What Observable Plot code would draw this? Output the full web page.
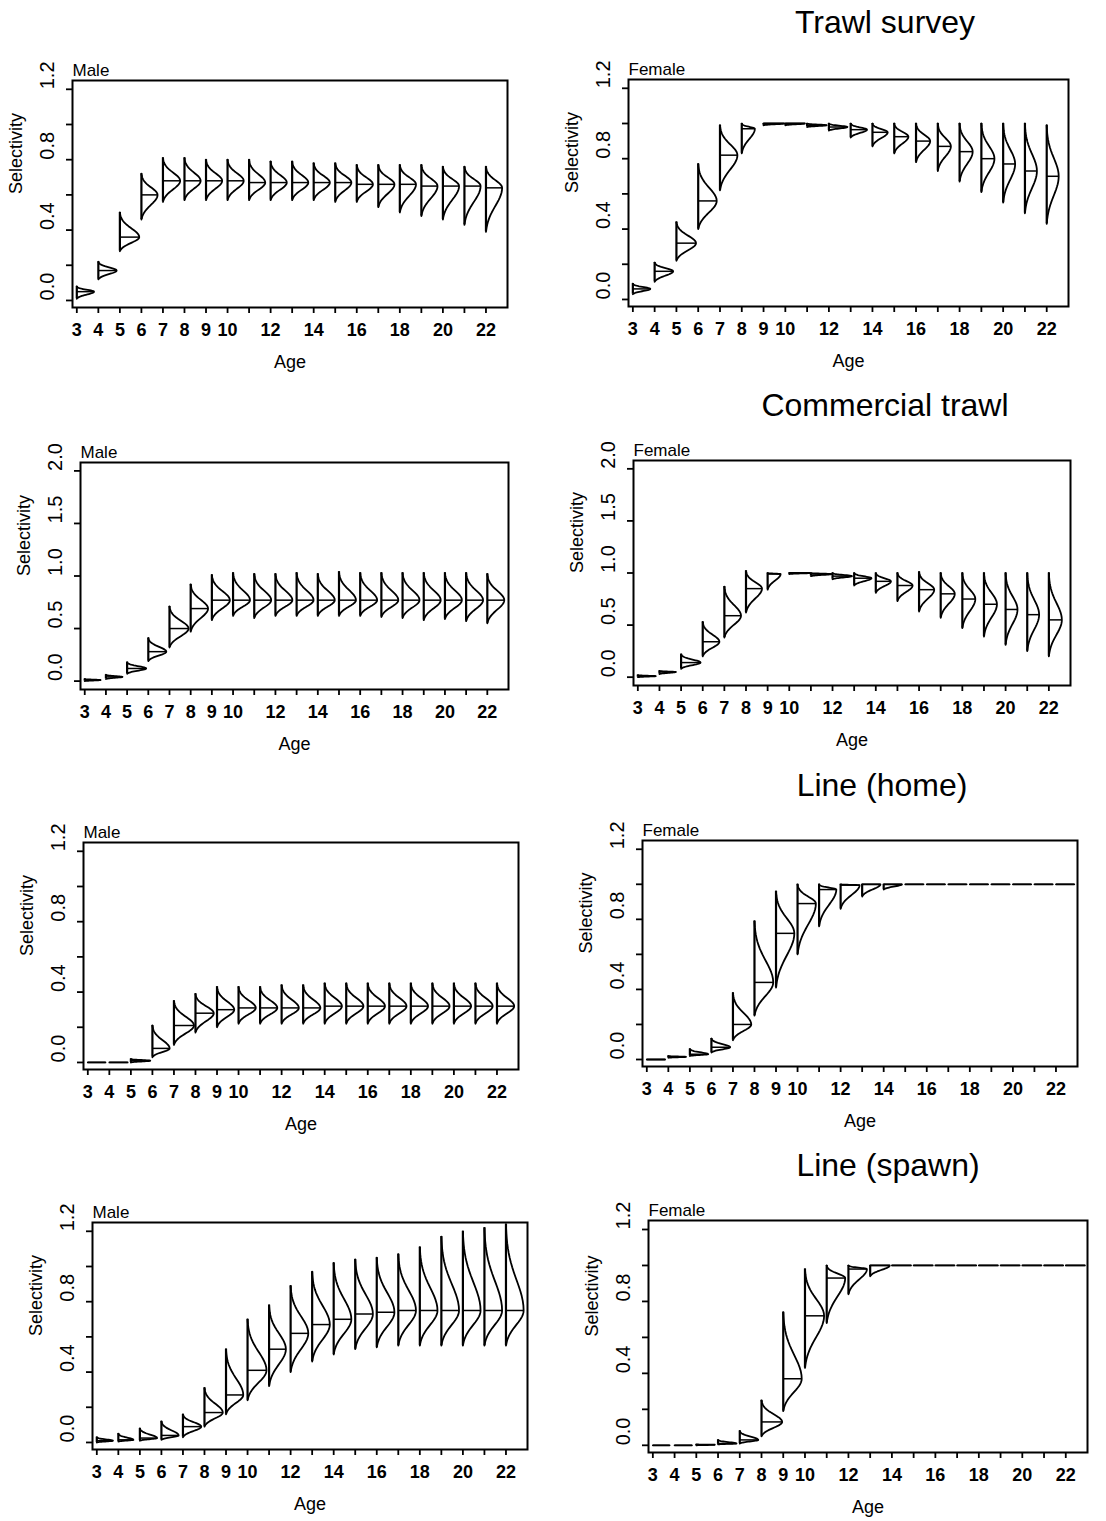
<!DOCTYPE html>
<html><head><meta charset="utf-8">
<script src="https://cdn.jsdelivr.net/npm/d3@7"></script>
<script src="https://cdn.jsdelivr.net/npm/@observablehq/plot@0.6"></script>
<style>
body{margin:0;background:#fff;font-family:"Liberation Sans",Arial,sans-serif;}
#fig{position:relative;width:1106px;height:1521px;overflow:hidden;background:#fff;}
.panel{position:absolute;}
.title{position:absolute;font-size:32px;transform:translate(-50%,-50%);white-space:nowrap;line-height:1;color:#000;}
</style></head><body><div id="fig"></div>
<script>
// ---------------- data ----------------
const ages = [3,4,5,6,7,8,9,10,11,12,13,14,15,16,17,18,19,20,21,22];
const xTickLabels = [3,4,5,6,7,8,9,10,12,14,16,18,20,22];
const yTicks12 = [0,0.2,0.4,0.6,0.8,1.0,1.2];
const yLabels12 = [0,0.4,0.8,1.2];
const yTicks20 = [0,0.5,1.0,1.5,2.0];
const yLabels20 = [0,0.5,1.0,1.5,2.0];
const panelTitles = ["Trawl survey","Commercial trawl","Line (home)","Line (spawn)"];
const sexes = ["Male","Female"];

// Trawl survey, male
const trawlMaleLo  = [0.01,0.12,0.28,0.46,0.56,0.57,0.57,0.57,0.57,0.57,0.57,0.57,0.56,0.56,0.53,0.50,0.48,0.46,0.43,0.39];
const trawlMaleMed = [0.05,0.17,0.36,0.60,0.68,0.68,0.68,0.68,0.67,0.67,0.67,0.67,0.67,0.66,0.66,0.66,0.65,0.65,0.65,0.64];
const trawlMaleHi  = [0.08,0.22,0.50,0.72,0.81,0.81,0.80,0.80,0.80,0.79,0.79,0.78,0.78,0.77,0.77,0.77,0.77,0.76,0.76,0.76];
const trawlMaleW   = [0.8,0.85,0.9,0.75,0.8,0.75,0.75,0.75,0.75,0.75,0.75,0.75,0.75,0.75,0.75,0.75,0.75,0.75,0.75,0.75];
// Trawl survey, female
const trawlFemLo  = [0.03,0.10,0.22,0.40,0.62,0.83,0.99,0.99,0.98,0.96,0.92,0.87,0.83,0.78,0.73,0.67,0.61,0.55,0.49,0.43];
const trawlFemMed = [0.06,0.16,0.32,0.56,0.82,0.97,1.0,1.0,0.99,0.98,0.965,0.95,0.925,0.90,0.87,0.84,0.80,0.77,0.73,0.70];
const trawlFemHi  = [0.09,0.21,0.44,0.77,0.99,1.0,1.0,1.0,1.0,1.0,1.0,1.0,1.0,1.0,1.0,1.0,1.0,1.0,1.0,0.99];
const trawlFemW   = [0.8,0.85,0.9,0.85,0.8,0.6,0.95,0.9,0.9,0.85,0.75,0.7,0.65,0.65,0.6,0.6,0.6,0.55,0.55,0.55];
// Commercial trawl, male
const commMaleLo  = [0.0,0.02,0.07,0.19,0.32,0.47,0.58,0.62,0.60,0.62,0.62,0.62,0.62,0.62,0.61,0.60,0.58,0.59,0.57,0.55];
const commMaleMed = [0.01,0.04,0.12,0.28,0.50,0.69,0.77,0.77,0.77,0.77,0.77,0.77,0.77,0.77,0.77,0.77,0.77,0.77,0.77,0.77];
const commMaleHi  = [0.02,0.06,0.18,0.41,0.71,0.92,1.01,1.03,1.02,1.02,1.03,1.02,1.04,1.03,1.03,1.03,1.03,1.03,1.03,1.02];
const commMaleW   = [0.75,0.78,0.9,0.85,0.9,0.82,0.85,0.8,0.8,0.8,0.8,0.8,0.8,0.8,0.8,0.8,0.8,0.8,0.8,0.8];
// Commercial trawl, female
const commFemLo  = [0.0,0.03,0.08,0.20,0.38,0.62,0.84,0.99,0.97,0.94,0.88,0.81,0.73,0.63,0.57,0.47,0.39,0.31,0.25,0.20];
const commFemMed = [0.01,0.05,0.14,0.34,0.59,0.85,0.99,1.0,0.99,0.97,0.95,0.92,0.88,0.84,0.80,0.75,0.70,0.65,0.60,0.55];
const commFemHi  = [0.02,0.06,0.22,0.53,0.87,1.02,1.0,1.0,1.0,1.0,1.0,1.0,1.0,1.01,1.0,1.0,1.0,1.0,1.0,1.0];
const commFemW   = [0.83,0.76,0.9,0.77,0.77,0.74,0.6,0.95,0.95,0.9,0.8,0.7,0.7,0.7,0.65,0.6,0.6,0.55,0.55,0.6];
// Line (home), male
const homeMaleLo  = [0.0,0.0,0.0,0.03,0.10,0.17,0.20,0.22,0.22,0.22,0.22,0.22,0.22,0.22,0.22,0.22,0.22,0.22,0.22,0.22];
const homeMaleMed = [0.0,0.0,0.01,0.08,0.21,0.28,0.30,0.31,0.31,0.31,0.31,0.32,0.32,0.32,0.32,0.32,0.32,0.32,0.32,0.32];
const homeMaleHi  = [0.0,0.0,0.02,0.21,0.35,0.39,0.43,0.43,0.43,0.44,0.44,0.45,0.45,0.45,0.45,0.45,0.45,0.45,0.45,0.45];
const homeMaleW   = [0.82,0.85,0.9,0.8,0.93,0.85,0.8,0.8,0.8,0.8,0.8,0.8,0.8,0.8,0.8,0.8,0.8,0.8,0.8,0.8];
// Line (home), female
const homeFemLo  = [0.0,0.01,0.02,0.04,0.11,0.25,0.41,0.60,0.76,0.86,0.93,0.97,1.0,1.0,1.0,1.0,1.0,1.0,1.0,1.0];
const homeFemMed = [0.0,0.015,0.03,0.07,0.20,0.44,0.72,0.89,0.97,0.995,1.0,1.0,1.0,1.0,1.0,1.0,1.0,1.0,1.0,1.0];
const homeFemHi  = [0.0,0.02,0.06,0.12,0.38,0.79,0.96,1.0,1.0,1.0,1.0,1.0,1.0,1.0,1.0,1.0,1.0,1.0,1.0,1.0];
const homeFemW   = [0.85,0.82,0.85,0.87,0.85,0.87,0.85,0.85,0.8,0.88,0.85,0.85,0.85,0.85,0.85,0.85,0.85,0.85,0.85,0.85];
// Line (spawn), male
const spawnMaleLo  = [0.0,0.005,0.01,0.015,0.03,0.09,0.16,0.24,0.32,0.40,0.46,0.50,0.53,0.54,0.55,0.55,0.55,0.55,0.55,0.55];
const spawnMaleMed = [0.01,0.015,0.025,0.04,0.09,0.17,0.27,0.41,0.53,0.62,0.67,0.70,0.73,0.74,0.75,0.75,0.75,0.75,0.75,0.75];
const spawnMaleHi  = [0.03,0.05,0.08,0.12,0.16,0.31,0.53,0.70,0.78,0.89,0.97,1.02,1.04,1.05,1.07,1.11,1.17,1.20,1.22,1.24];
const spawnMaleW   = [0.75,0.7,0.8,0.8,0.85,0.85,0.8,0.88,0.78,0.82,0.82,0.82,0.82,0.82,0.82,0.82,0.82,0.82,0.82,0.82];
// Line (spawn), female
const spawnFemLo  = [0.0,0.0,0.0,0.005,0.01,0.05,0.19,0.43,0.68,0.84,0.94,1.0,1.0,1.0,1.0,1.0,1.0,1.0,1.0,1.0];
const spawnFemMed = [0.0,0.0,0.003,0.01,0.03,0.13,0.37,0.72,0.93,0.98,1.0,1.0,1.0,1.0,1.0,1.0,1.0,1.0,1.0,1.0];
const spawnFemHi  = [0.0,0.0,0.005,0.03,0.08,0.25,0.74,0.98,1.0,1.0,1.0,1.0,1.0,1.0,1.0,1.0,1.0,1.0,1.0,1.0];
const spawnFemW   = [0.77,0.8,0.85,0.85,0.85,0.95,0.85,0.88,0.85,0.85,0.9,0.88,0.88,0.88,0.88,0.88,0.88,0.88,0.88,0.88];

// ---------------- layout ----------------
const fig = document.getElementById("fig");
const panels = [
  {title:0, sex:0, lo:trawlMaleLo, med:trawlMaleMed, hi:trawlMaleHi, w:trawlMaleW, scale:12, box:[72,80,507,307]},
  {title:0, sex:1, lo:trawlFemLo, med:trawlFemMed, hi:trawlFemHi, w:trawlFemW, scale:12, box:[628,79,1068,306]},
  {title:1, sex:0, lo:commMaleLo, med:commMaleMed, hi:commMaleHi, w:commMaleW, scale:20, box:[80,462,508,689]},
  {title:1, sex:1, lo:commFemLo, med:commFemMed, hi:commFemHi, w:commFemW, scale:20, box:[633,460,1070,685]},
  {title:2, sex:0, lo:homeMaleLo, med:homeMaleMed, hi:homeMaleHi, w:homeMaleW, scale:12, box:[83,842,518,1069]},
  {title:2, sex:1, lo:homeFemLo, med:homeFemMed, hi:homeFemHi, w:homeFemW, scale:12, box:[642,840,1077,1066]},
  {title:3, sex:0, lo:spawnMaleLo, med:spawnMaleMed, hi:spawnMaleHi, w:spawnMaleW, scale:12, box:[92,1222,527,1449]},
  {title:3, sex:1, lo:spawnFemLo, med:spawnFemMed, hi:spawnFemHi, w:spawnFemW, scale:12, box:[648,1220,1087,1452]}
];
const titlePos = [[885,22],[885,405],[882,785],[888,1165]];

// outline of each distribution, drawn to the right of its age
function outline(d) {
  const N = 18, pts = [];
  const gU = u => (Math.exp(-4*u*u) - Math.exp(-4)) / (1 - Math.exp(-4));
  const gL = u => (Math.exp(-3*u*u) - Math.exp(-3)) / (1 - Math.exp(-3));
  for (let k = 0; k <= N; k++) { const u = 1 - k/N; pts.push({age:d.age, x:d.age + d.w*gU(u), y:d.med + (d.hi-d.med)*u}); }
  for (let k = 1; k <= N; k++) { const u = k/N; pts.push({age:d.age, x:d.age + d.w*gL(u), y:d.med - (d.med-d.lo)*u}); }
  return pts;
}

const mL = 70, mT = 32, mR = 16, mB = 78;
panels.forEach(p => {
  const [L,T,R,B] = p.box;
  const W = R - L, H = B - T;
  const data = ages.map((a,i) => ({age:a, lo:p.lo[i], med:p.med[i], hi:p.hi[i], w:p.w[i]}));
  const pts = data.flatMap(outline);
  const yTicks = p.scale === 12 ? yTicks12 : yTicks20;
  const yLabels = p.scale === 12 ? yLabels12 : yLabels20;
  const yDomain = p.scale === 12 ? [-0.04, 1.25] : [-0.08, 2.08];
  const chart = Plot.plot({
    width: W + mL + mR, height: H + mT + mB,
    marginLeft: mL, marginTop: mT, marginRight: mR, marginBottom: mB,
    style: {fontFamily: "'Liberation Sans', Arial, sans-serif", background: "transparent", color: "#000"},
    x: {domain: [2.8, 23]},
    y: {domain: yDomain},
    marks: [
      Plot.frame({stroke: "#000", strokeWidth: 2}),
      Plot.axisX({ticks: ages, tickFormat: d => xTickLabels.includes(d) ? String(d) : "", tickSize: 6, tickPadding: 10, fontSize: 18, fontWeight: "bold", label: null, strokeWidth: 1.8}),
      Plot.axisY({ticks: yTicks, tickFormat: () => "", tickSize: 6, label: null, strokeWidth: 1.8}),
      Plot.text(yLabels, {y: d => d, text: d => d.toFixed(1), frameAnchor: "left", dx: -25, rotate: -90, fontSize: 20}),
      Plot.ruleX(data, {x: "age", y1: "lo", y2: "hi", stroke: "#000", strokeWidth: 2.2}),
      Plot.line(pts, {x: "x", y: "y", z: "age", stroke: "#000", strokeWidth: 1.8}),
      Plot.link(data, {x1: "age", x2: d => d.age + d.w, y1: "med", y2: "med", stroke: "#000", strokeWidth: 1.5}),
      Plot.text(["Selectivity"], {frameAnchor: "left", dx: -56, rotate: -90, fontSize: 18}),
      Plot.text(["Age"], {frameAnchor: "bottom", dy: 60, fontSize: 18}),
      Plot.text([sexes[p.sex]], {frameAnchor: "top-left", dy: -17, textAnchor: "start", fontSize: 17})
    ]
  });
  const div = document.createElement("div");
  div.className = "panel";
  div.style.left = (L - mL) + "px";
  div.style.top = (T - mT) + "px";
  div.appendChild(chart);
  fig.appendChild(div);
});

panelTitles.forEach((t,i) => {
  const el = document.createElement("div");
  el.className = "title";
  el.textContent = t;
  el.style.left = titlePos[i][0] + "px";
  el.style.top = titlePos[i][1] + "px";
  fig.appendChild(el);
});
</script></body></html>
